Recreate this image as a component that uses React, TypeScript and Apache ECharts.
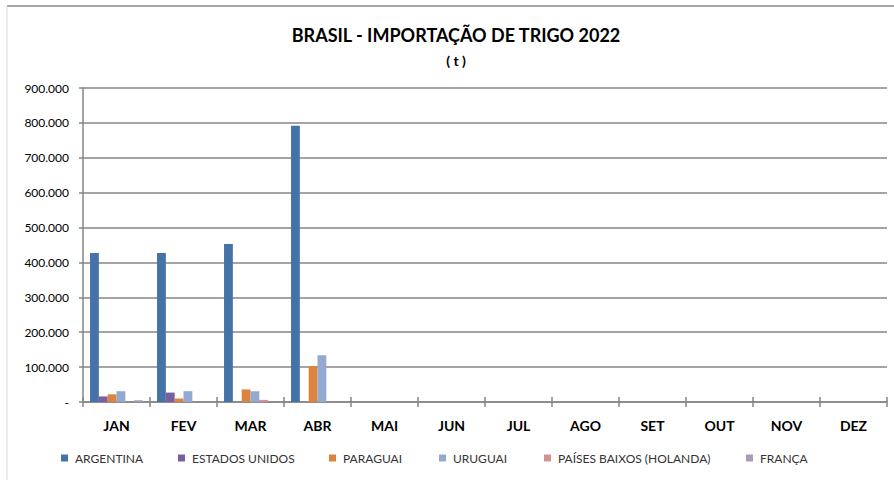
import React, { useEffect, useRef } from "react";
import * as echarts from "echarts";

const months = ["JAN", "FEV", "MAR", "ABR", "MAI", "JUN", "JUL", "AGO", "SET", "OUT", "NOV", "DEZ"];
const seriesNames = ["ARGENTINA", "ESTADOS UNIDOS", "PARAGUAI", "URUGUAI", "PAÍSES BAIXOS (HOLANDA)", "FRANÇA"];
const argentina = [427000, 427000, 453000, 792000, null, null, null, null, null, null, null, null];
const estadosUnidos = [16000, 27000, 0, 0, null, null, null, null, null, null, null, null];
const paraguai = [22000, 10000, 36000, 103000, null, null, null, null, null, null, null, null];
const uruguai = [31000, 31000, 31000, 134000, null, null, null, null, null, null, null, null];
const paisesBaixos = [0, 0, 6000, 0, null, null, null, null, null, null, null, null];
const franca = [5000, 0, 0, 0, null, null, null, null, null, null, null, null];
const seriesValues = [argentina, estadosUnidos, paraguai, uruguai, paisesBaixos, franca];
const colors = ["#4572A7", "#7660A0", "#DB843D", "#93A9CF", "#D19392", "#A99BBD"];
const legendLefts = [61, 178, 329, 439, 544, 746];

const FONT = "Lato, 'Open Sans', sans-serif";

function fmt(v: number) {
  if (v === 0) return "-";
  return String(v).replace(/\B(?=(\d{3})+(?!\d))/g, ".");
}

export default function App() {
  const ref = useRef<HTMLDivElement>(null);
  useEffect(() => {
    if (!ref.current) return;
    const chart = echarts.init(ref.current, undefined, { renderer: "svg" });
    chart.setOption({
      animation: false,
      color: colors,
      title: [
        {
          text: "BRASIL - IMPORTAÇÃO DE TRIGO 2022",
          left: 451,
          top: 21,
          textAlign: "center",
          textStyle: { fontFamily: FONT, fontSize: 18, fontWeight: "bold", color: "#000" },
        },
        {
          text: "( t )",
          left: 451,
          top: 48,
          textAlign: "center",
          textStyle: { fontFamily: FONT, fontSize: 14, fontWeight: "bold", color: "#000" },
        },
      ],
      legend: seriesNames.map((n, i) => ({
        data: [n],
        left: legendLefts[i],
        top: 452,
        padding: 0,
        itemWidth: 7,
        itemHeight: 7,
        icon: "rect",
        selectedMode: false,
        textStyle: { fontFamily: FONT, fontSize: 12, color: "#333", padding: [0, 0, 0, 2] },
      })),
      grid: { left: 83, right: 7, top: 88, bottom: 78, containLabel: false },
      xAxis: [
        {
          type: "category",
          data: months,
          position: "bottom",
          axisLine: { lineStyle: { color: "#868686", width: 1.5 } },
          axisTick: { show: true, length: 5, lineStyle: { color: "#868686", width: 1.5 } },
          axisLabel: { fontFamily: FONT, fontSize: 14, fontWeight: "bold", color: "#000", margin: 16 },
        },
        {
          type: "category",
          data: months,
          position: "bottom",
          axisLine: { show: false },
          axisTick: { show: true, inside: true, length: 5, lineStyle: { color: "#868686", width: 1.5 } },
          axisLabel: { show: false },
        },
      ],
      yAxis: {
        type: "value",
        min: 0,
        max: 900000,
        interval: 100000,
        axisLine: { show: true, lineStyle: { color: "#868686", width: 1.5 } },
        axisTick: { show: true, length: 4, lineStyle: { color: "#868686", width: 1.5 } },
        splitLine: { lineStyle: { color: "#868686", width: 1.5 } },
        axisLabel: { fontFamily: FONT, fontSize: 12, color: "#000", margin: 14, formatter: (v: number) => fmt(v) },
      },
      series: seriesNames.map((n, i) => ({
        name: n,
        type: "bar",
        data: seriesValues[i],
        barGap: "0%",
        barCategoryGap: "21%",
        itemStyle: { color: colors[i] },
      })),
      graphic: [
        { type: "line", shape: { x1: 7, y1: 6, x2: 894, y2: 6 }, style: { stroke: "#a6a6a6", lineWidth: 2 } },
        { type: "line", shape: { x1: 7, y1: 6, x2: 7, y2: 480 }, style: { stroke: "#d9d9d9", lineWidth: 1 } },
      ],
    });
    return () => chart.dispose();
  }, []);
  return <div ref={ref} style={{ position: "fixed", left: 0, top: 0, width: 894, height: 480, background: "#fff" }} />;
}
